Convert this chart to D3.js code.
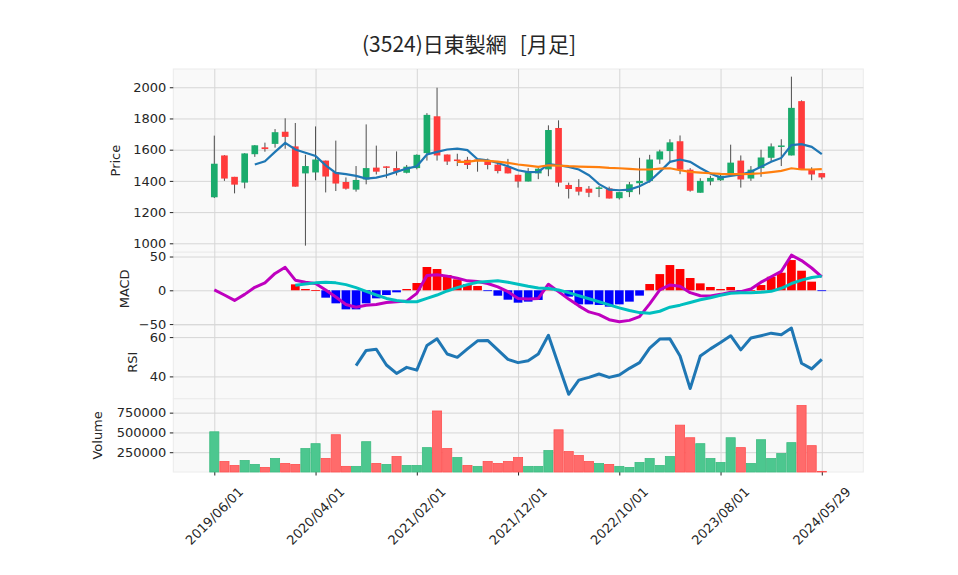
<!DOCTYPE html>
<html>
<head>
<meta charset="utf-8">
<script src="https://cdn.jsdelivr.net/npm/d3@7/dist/d3.min.js"></script>
<style>
  body { margin: 0; background: #fff; }
  svg text { font-family: "DejaVu Sans", sans-serif; fill: #262626; }
  svg text.title { font-family: "Noto Sans CJK JP", "DejaVu Sans", sans-serif; }
</style>
</head>
<body>
<svg id="chart" width="958" height="575"></svg>
<script>
// monthly bars, index 0..60
const dates = [
  '2019/06/01','2019/07/01','2019/08/01','2019/09/01','2019/10/01','2019/11/01','2019/12/01',
  '2020/01/01','2020/02/01','2020/03/01','2020/04/01','2020/05/01','2020/06/01','2020/07/01',
  '2020/08/01','2020/09/01','2020/10/01','2020/11/01','2020/12/01',
  '2021/01/01','2021/02/01','2021/03/01','2021/04/01','2021/05/01','2021/06/01','2021/07/01',
  '2021/08/01','2021/09/01','2021/10/01','2021/11/01','2021/12/01',
  '2022/01/01','2022/02/01','2022/03/01','2022/04/01','2022/05/01','2022/06/01','2022/07/01',
  '2022/08/01','2022/09/01','2022/10/01','2022/11/01','2022/12/01',
  '2023/01/01','2023/02/01','2023/03/01','2023/04/01','2023/05/01','2023/06/01','2023/07/01',
  '2023/08/01','2023/09/01','2023/10/01','2023/11/01','2023/12/01',
  '2024/01/01','2024/02/01','2024/03/01','2024/04/01','2024/05/01','2024/05/29'
]
const tickIdx = [0, 10, 20, 30, 40, 50, 60]

const opens = [1295,1563,1426,1389,1571,1615,1637,1715,1621,1448, 1454,1530,1456,1393,1344,1409,1485,1493,1482,1452,
  1482,1578,1814,1569,1537,1535,1537,1524,1504,1491, 1439,1396,1448,1474,1739,1374,1361,1350,1350,1352,
  1289,1328,1385,1400,1537,1591,1654,1472,1324,1396, 1404,1443,1530,1415,1482,1548,1621,1563,1911,1472,1450]
const highs = [1690,1565,1426,1578,1630,1645,1732,1801,1771,1567, 1749,1530,1658,1422,1495,1762,1626,1493,1589,1502,
  1570,1834,1997,1569,1574,1554,1540,1543,1519,1541, 1439,1482,1482,1756,1788,1389,1411,1367,1367,1363,
  1330,1393,1548,1567,1600,1667,1691,1482,1417,1433, 1440,1632,1563,1495,1600,1640,1667,2068,1916,1487,1450]
const lows = [1290,1400,1320,1352,1554,1587,1613,1606,1363,985, 1404,1326,1335,1344,1331,1378,1441,1417,1435,1448,
  1474,1530,1530,1502,1495,1476,1459,1474,1448,1448, 1357,1396,1411,1430,1363,1287,1307,1296,1296,1287,
  1281,1296,1313,1389,1509,1519,1443,1331,1324,1372, 1400,1433,1357,1400,1426,1524,1495,1563,1472,1404,1410]
const closes = [1510,1415,1376,1576,1628,1604,1712,1682,1363,1495, 1537,1428,1383,1350,1406,1482,1459,1488,1459,1491,
  1567,1823,1563,1524,1527,1502,1533,1502,1463,1448, 1396,1456,1478,1726,1389,1348,1331,1324,1358,1287,
  1328,1378,1400,1537,1589,1647,1472,1337,1400,1419, 1433,1517,1409,1472,1550,1621,1627,1868,1472,1441,1422]
const volumes = [508000,133000,83000,146000,96000,58000,171000,108000,96000,296000,
  358000,171000,471000,71000,71000,383000,108000,96000,196000,83000,
  83000,308000,771000,296000,183000,83000,71000,133000,108000,133000,
  183000,71000,71000,271000,533000,258000,208000,133000,108000,96000,
  71000,58000,121000,171000,83000,196000,592000,433000,358000,171000,
  121000,433000,308000,108000,408000,171000,233000,371000,840000,333000,8000]

const ma5 = [null,null,null,null,
  1505,1526,1586,1644,1601,1580,1560,1500,1451,1443,1432,1415,1421,1436,1458,1479,
  1494,1569,1586,1601,1607,1597,1539,1532,1515,1494,1468,1456,1458,1507,1500,1490,1473,1436,1379,1344,1340,1344,1366,
  1398,1458,1522,1537,1522,1483,1447,1421,1432,1441,1458,1490,1522,1547,1629,1635,1618,1571]
const ma25 = [null,null,null,null,null,null,null,null,null,null,null,null,
  null,null,null,null,null,null,null,null,null,null,null,null,
  1522,1522,1532,1528,1524,1515,1505,1498,1490,1500,1498,1494,1492,1490,1488,1483,1481,1477,1473,
  1473,1479,1481,1468,1458,1453,1449,1445,1443,1443,1445,1449,1456,1464,1481,1473,1473,1475]

const macd = [0.5,-7,-15,-6,4.5,11,25,34,15,12, 10,0.5,-10,-21,-25,-22,-21,-18,-17,-16,
  -4.5,22,23,21,18,14,13,10,5,-2, -12,-13,-12,9,-2,-13,-23,-32,-36,-43.5,
  -46.5,-44.5,-39,-20,0.5,8,6,-3.5,-8,-8.4, -6,-3,-2,2,12,20,28,52,44,33,20]
const signal = [null,null,null,null,null,null,null,null,
  7.4,9.4,11,12,11,8.4,4,-1.5,-7,-12,-15,-17,-17,-12,-7,-1,4,8.4,12,13,14,12,
  9,6,3.5,2.7,0.5,-3.5,-8,-12.5,-17,-21.5,-26,-30,-33,-34,-31,
  -25,-22,-18,-14,-11,-7.4,-4.5,-3.5,-3.5,-3,-1.5,3,10,15,19,21]
const hist = [null,null,null,null,null,null,null,null,
  8.8,1.9,0.3,-10.9,-19.3,-28.2,-28.2,-19.3,-11.9,-7,-3,1.9,10.8,34.5,31.5,22.6,16.2,9.3,6.4,-1,-8,-13.9,
  -18.3,-16.8,-14.3,2,-1,-9.4,-20.8,-20.8,-21.7,-24.2,-20.8,-16.8,-7.9,9.3,24,37.4,31.5,18.2,10.3,4.9,
  1.9,4.9,-1,0,7.8,20,26,44.8,29,12.8,-0.5]
const rsi = [null,null,null,null,null,null,null,null,null,null,null,null,null,null,
  45.5,53.2,53.8,45.8,41.5,44.6,43.2,55.7,59.1,51.4,49.7,54,58.1,58.3,53.5,48.7,47,
  48,51.4,60.9,45.8,30.9,38.1,39.5,41.2,39.5,40.7,44.1,47,54.4,59,59.1,50.4,33.8,50.4,54,
  57.3,60.7,53.5,59.5,60.7,62,61.2,64.6,46.7,43.8,48.7]

const UP = '#1aab6c'
const DOWN = '#ff3b3b'
const VOL_UP = '#4cc78f'
const VOL_DOWN = '#ff6b6b'
const GRID = '#d6d6d6'

const svg = d3.select('#chart')
const left = 173.3, right = 863.3

const x = d3.scaleLinear().domain([-4.05, 64.1]).range([left, right])
const step = x(1) - x(0)

const panels = [
  { key: 'price', top: 69, bottom: 252.2, domain: [943, 2117], ticks: [1000, 1200, 1400, 1600, 1800, 2000], label: 'Price', lx: 115 },
  { key: 'macd', top: 252.2, bottom: 325.5, domain: [-52.1, 56.4], ticks: [-50, 0, 50], label: 'MACD', lx: 124 },
  { key: 'rsi', top: 325.5, bottom: 398.8, domain: [28.6, 65.9], ticks: [40, 60], label: 'RSI', lx: 132 },
  { key: 'vol', top: 398.8, bottom: 472, domain: [0, 925000], ticks: [250000, 500000, 750000], label: 'Volume', lx: 97 },
]
const y = {}
panels.forEach(p => {
  y[p.key] = d3.scaleLinear().domain(p.domain).range([p.bottom, p.top])
})

// panel backgrounds + horizontal grid + y axis
panels.forEach(p => {
  svg.append('rect')
    .attr('x', left).attr('y', p.top)
    .attr('width', right - left).attr('height', p.bottom - p.top)
    .attr('fill', '#f9f9f9')
    .attr('stroke', '#ececec')

  let grid = svg.append('g')
    .attr('transform', `translate(${left},0)`)
    .call(d3.axisLeft(y[p.key]).tickValues(p.ticks).tickSize(-(right - left)).tickFormat(''))
  grid.select('.domain').remove()
  grid.selectAll('line').attr('stroke', GRID).attr('stroke-width', 1)

  let ax = svg.append('g')
    .attr('transform', `translate(${left},0)`)
    .call(d3.axisLeft(y[p.key]).tickValues(p.ticks).tickSize(3.5).tickPadding(3.5).tickFormat(d3.format('d')))
  ax.select('.domain').remove()
  ax.selectAll('line').attr('stroke', '#222')
  ax.selectAll('text').style('font-size', '13px').attr('fill', '#262626')

  svg.append('text')
    .attr('transform', `translate(${p.lx},${(p.top + p.bottom) / 2}) rotate(-90)`)
    .attr('text-anchor', 'middle')
    .attr('dy', '0.35em')
    .style('font-size', '13px')
    .text(p.label)
})

// vertical grid across all panels
let vgrid = svg.append('g')
  .attr('transform', 'translate(0,472)')
  .call(d3.axisBottom(x).tickValues(tickIdx).tickSize(-(472 - 69)).tickFormat(''))
vgrid.select('.domain').remove()
vgrid.selectAll('line').attr('stroke', GRID).attr('stroke-width', 1)

// x axis ticks + rotated date labels
let xAx = svg.append('g')
  .attr('transform', 'translate(0,472)')
  .call(d3.axisBottom(x).tickValues(tickIdx).tickSize(3.5).tickFormat(''))
xAx.select('.domain').remove()
xAx.selectAll('line').attr('stroke', '#222')

svg.append('g').selectAll('text')
  .data(tickIdx)
  .join('text')
  .attr('transform', d => `translate(${x(d)},516) rotate(-45)`)
  .attr('text-anchor', 'middle')
  .attr('dy', '0.35em')
  .style('font-size', '13px')
  .text(d => dates[d])

const idx = d3.range(dates.length)

// candles
let candle = svg.append('g').selectAll('g')
  .data(idx)
  .join('g')

candle.append('line')
  .attr('x1', i => x(i)).attr('x2', i => x(i))
  .attr('y1', i => y.price(highs[i])).attr('y2', i => y.price(lows[i]))
  .attr('stroke', '#4d4d4d').attr('stroke-width', 1)

candle.append('rect')
  .attr('x', i => x(i) - step * 0.33)
  .attr('width', step * 0.66)
  .attr('y', i => y.price(Math.max(opens[i], closes[i])))
  .attr('height', i => Math.max(1.5, Math.abs(y.price(opens[i]) - y.price(closes[i]))))
  .attr('fill', i => closes[i] >= opens[i] ? UP : DOWN)

// moving averages
const lineOf = (arr, sc) => d3.line()
  .defined(i => arr[i] != null)
  .x(i => x(i))
  .y(i => sc(arr[i]))

svg.append('path').datum(idx)
  .attr('d', lineOf(ma5, y.price))
  .attr('fill', 'none').attr('stroke', '#1f77b4').attr('stroke-width', 2.2)
svg.append('path').datum(idx)
  .attr('d', lineOf(ma25, y.price))
  .attr('fill', 'none').attr('stroke', '#ff7f0e').attr('stroke-width', 2.2)

// MACD histogram + lines
svg.append('g').selectAll('rect')
  .data(idx.filter(i => hist[i] != null))
  .join('rect')
  .attr('x', i => x(i) - step * 0.43)
  .attr('width', step * 0.86)
  .attr('y', i => y.macd(Math.max(0, hist[i])))
  .attr('height', i => Math.max(0.8, Math.abs(y.macd(hist[i]) - y.macd(0))))
  .attr('fill', i => hist[i] >= 0 ? '#ff0000' : '#0000ff')

svg.append('path').datum(idx)
  .attr('d', lineOf(macd, y.macd))
  .attr('fill', 'none').attr('stroke', '#bf00bf').attr('stroke-width', 3)
  .attr('stroke-linejoin', 'round')
svg.append('path').datum(idx)
  .attr('d', lineOf(signal, y.macd))
  .attr('fill', 'none').attr('stroke', '#00bfbf').attr('stroke-width', 3)
  .attr('stroke-linejoin', 'round')

// RSI
svg.append('path').datum(idx)
  .attr('d', lineOf(rsi, y.rsi))
  .attr('fill', 'none').attr('stroke', '#1f77b4').attr('stroke-width', 3)
  .attr('stroke-linejoin', 'round')

// volume, coloured against previous close
const volUp = i => i === 0 || closes[i] >= closes[i - 1]
svg.append('g').selectAll('rect')
  .data(idx)
  .join('rect')
  .attr('x', i => x(i) - step * 0.5 + 0.5)
  .attr('width', step - 1)
  .attr('y', i => y.vol(volumes[i]))
  .attr('height', i => y.vol(0) - y.vol(volumes[i]))
  .attr('fill', i => volUp(i) ? VOL_UP : VOL_DOWN)
  .attr('stroke', i => volUp(i) ? '#3dbb80' : '#ff5050')
  .attr('stroke-width', 0.8)

// title (two parts, wide gap as in the original)
let title = svg.append('text')
  .attr('class', 'title')
  .attr('x', 469).attr('y', 52)
  .attr('text-anchor', 'middle')
  .style('font-size', '21px')
title.append('tspan').text('(3524)日東製網')
title.append('tspan').attr('dx', 13).text('[月足]')
</script>
</body>
</html>
